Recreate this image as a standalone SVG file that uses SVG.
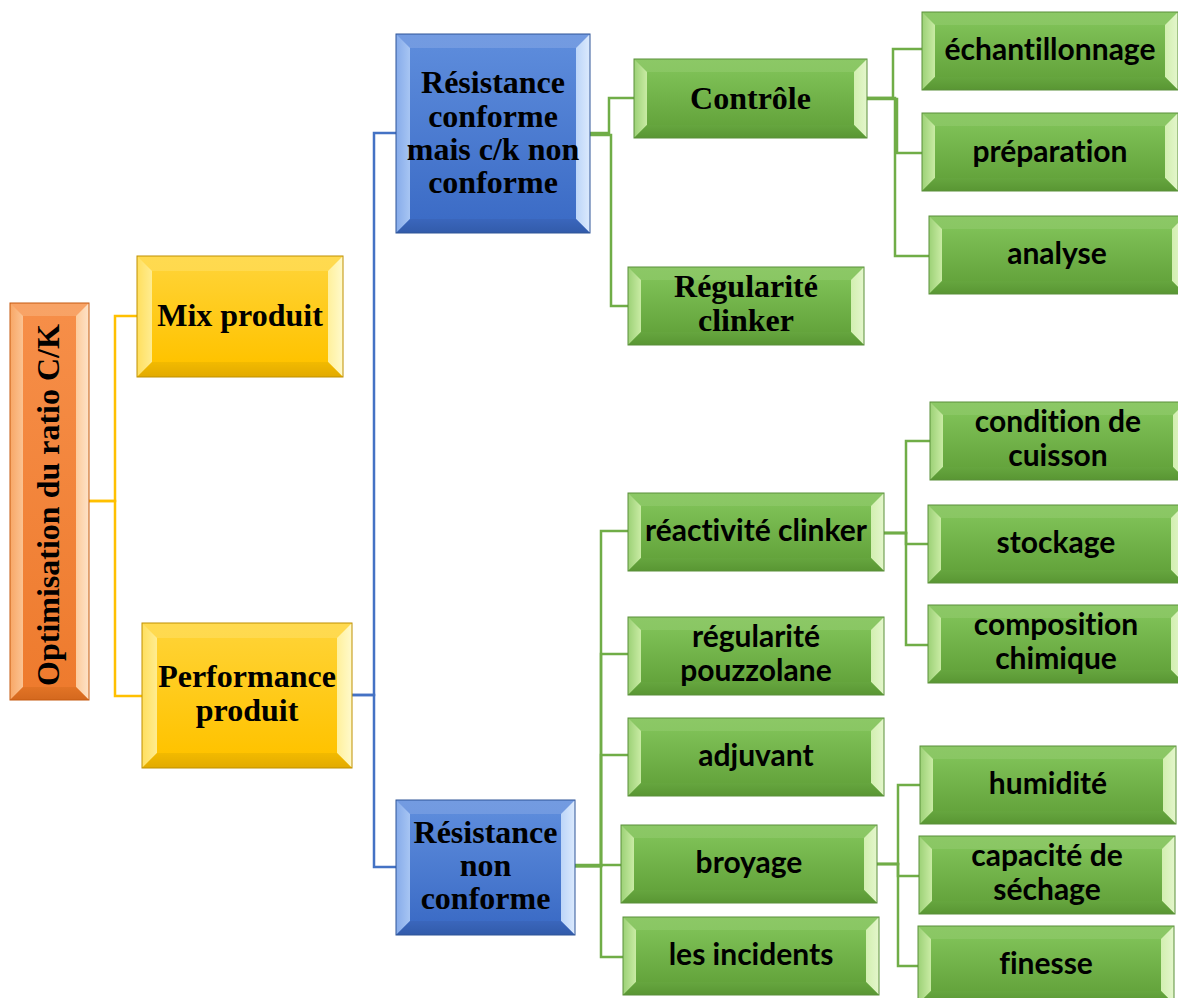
<svg xmlns="http://www.w3.org/2000/svg" xmlns:xlink="http://www.w3.org/1999/xlink" width="1178" height="998" viewBox="0 0 1178 998">
<style>
.ts{font-family:"Liberation Serif","Times New Roman",serif;font-weight:bold;font-size:32px;fill:#000;text-anchor:middle}
.tn{font-family:Lato,"Noto Sans",sans-serif;font-weight:bold;font-size:30px;fill:#000;text-anchor:middle;font-variant-ligatures:none}
.cy{stroke:#FFC000;stroke-width:2.5;fill:none}
.cb{stroke:#4472C4;stroke-width:2.5;fill:none}
.cg{stroke:#70AD47;stroke-width:2.5;fill:none}
</style>
<defs>
<linearGradient id="gFace" x1="0" y1="0" x2="0" y2="1"><stop offset="0" stop-color="#7EC056"/><stop offset="1" stop-color="#64A43C"/></linearGradient>
<linearGradient id="gTop" x1="0" y1="0" x2="0" y2="1"><stop offset="0" stop-color="#8CC866"/><stop offset="1" stop-color="#7DBE56"/></linearGradient>
<linearGradient id="gLeft" x1="0" y1="0" x2="1" y2="0"><stop offset="0" stop-color="#9CD176"/><stop offset="1" stop-color="#C9EBA4"/></linearGradient>
<linearGradient id="gRight" x1="0" y1="0" x2="1" y2="0"><stop offset="0" stop-color="#D2EFB0"/><stop offset="1" stop-color="#E4F6CC"/></linearGradient>
<linearGradient id="gBot" x1="0" y1="0" x2="0" y2="1"><stop offset="0" stop-color="#66A63F"/><stop offset="1" stop-color="#599633"/></linearGradient>

<linearGradient id="bFace" x1="0" y1="0" x2="0" y2="1"><stop offset="0" stop-color="#5C8BDB"/><stop offset="1" stop-color="#3C6CC6"/></linearGradient>
<linearGradient id="bTop" x1="0" y1="0" x2="0" y2="1"><stop offset="0" stop-color="#739BE1"/><stop offset="1" stop-color="#6690DC"/></linearGradient>
<linearGradient id="bLeft" x1="0" y1="0" x2="1" y2="0"><stop offset="0" stop-color="#86ABEA"/><stop offset="1" stop-color="#A7C5F3"/></linearGradient>
<linearGradient id="bRight" x1="0" y1="0" x2="1" y2="0"><stop offset="0" stop-color="#BCD5F8"/><stop offset="1" stop-color="#DCEAFD"/></linearGradient>
<linearGradient id="bBot" x1="0" y1="0" x2="0" y2="1"><stop offset="0" stop-color="#3A66BC"/><stop offset="1" stop-color="#325BAA"/></linearGradient>

<linearGradient id="yFace" x1="0" y1="0" x2="0" y2="1"><stop offset="0" stop-color="#FFD232"/><stop offset="1" stop-color="#FFC300"/></linearGradient>
<linearGradient id="yTop" x1="0" y1="0" x2="0" y2="1"><stop offset="0" stop-color="#FFDA50"/><stop offset="1" stop-color="#FFD43C"/></linearGradient>
<linearGradient id="yLeft" x1="0" y1="0" x2="1" y2="0"><stop offset="0" stop-color="#FFDF5E"/><stop offset="1" stop-color="#FFEC90"/></linearGradient>
<linearGradient id="yRight" x1="0" y1="0" x2="1" y2="0"><stop offset="0" stop-color="#FFF09C"/><stop offset="1" stop-color="#FFFACC"/></linearGradient>
<linearGradient id="yBot" x1="0" y1="0" x2="0" y2="1"><stop offset="0" stop-color="#F2BA00"/><stop offset="1" stop-color="#E2AA00"/></linearGradient>

<linearGradient id="oFace" x1="0" y1="0" x2="0" y2="1"><stop offset="0" stop-color="#F68E48"/><stop offset="1" stop-color="#EE7B2E"/></linearGradient>
<linearGradient id="oTop" x1="0" y1="0" x2="0" y2="1"><stop offset="0" stop-color="#F8A366"/><stop offset="1" stop-color="#F69656"/></linearGradient>
<linearGradient id="oLeft" x1="0" y1="0" x2="1" y2="0"><stop offset="0" stop-color="#F8A766"/><stop offset="1" stop-color="#FBC393"/></linearGradient>
<linearGradient id="oRight" x1="0" y1="0" x2="1" y2="0"><stop offset="0" stop-color="#FCCB9C"/><stop offset="1" stop-color="#FEE2C8"/></linearGradient>
<linearGradient id="oBot" x1="0" y1="0" x2="0" y2="1"><stop offset="0" stop-color="#E27426"/><stop offset="1" stop-color="#D4681E"/></linearGradient>

<g id="gbox">
<rect width="256" height="78" fill="url(#gTop)"/>
<polygon points="0,0 13,13 13,65 0,78" fill="url(#gLeft)"/>
<polygon points="256,0 256,78 243,65 243,13" fill="url(#gRight)"/>
<polygon points="0,78 13,65 243,65 256,78" fill="url(#gBot)"/>
<rect x="13" y="13" width="230" height="52" fill="url(#gFace)"/>
<rect width="256" height="78" fill="none" stroke="#5A8F3A" stroke-width="1"/>
</g>
</defs>

<rect width="1178" height="998" fill="#FFFFFF"/>

<g id="connectors">
<path class="cy" d="M89,501 H115 V316 H137"/>
<path class="cy" d="M89,501 H115 V696 H142"/>
<path class="cb" d="M352,695 H374 V133 H396"/>
<path class="cb" d="M352,695 H374 V867 H396"/>
<path class="cg" d="M590,133 H609 V98 H634"/>
<path class="cg" d="M590,135 H611 V306 H628"/>
<path class="cg" d="M867,98 H893 V49 H922"/>
<path class="cg" d="M867,99 H897 V153 H922"/>
<path class="cg" d="M867,98 H895 V256 H929"/>
<path class="cg" d="M575,866 H601 V531 H628"/>
<path class="cg" d="M575,866 H601 V654 H628"/>
<path class="cg" d="M575,866 H601 V755 H628"/>
<path class="cg" d="M575,865 H621"/>
<path class="cg" d="M575,866 H601 V957 H623"/>
<path class="cg" d="M883,533 H906 V441 H930"/>
<path class="cg" d="M883,533 H906 V544 H928"/>
<path class="cg" d="M883,533 H906 V645 H928"/>
<path class="cg" d="M877,864 H898 V785 H920"/>
<path class="cg" d="M877,864 H898 V876 H919"/>
<path class="cg" d="M877,864 H898 V966 H918"/>
</g>

<g id="n-root" transform="translate(10,303)">
<rect width="79" height="397" fill="url(#oTop)"/>
<polygon points="0,0 13,13 13,384 0,397" fill="url(#oLeft)"/>
<polygon points="79,0 79,397 66,384 66,13" fill="url(#oRight)"/>
<polygon points="0,397 13,384 66,384 79,397" fill="url(#oBot)"/>
<rect x="13" y="13" width="53" height="371" fill="url(#oFace)"/>
<rect width="79" height="397" fill="none" stroke="#C55A11" stroke-width="1"/>
<text class="ts" transform="translate(39.5,202) rotate(-90)" y="9">Optimisation du ratio C/K</text>
</g>

<g id="n-mix" transform="translate(137,256)">
<rect width="206" height="121" fill="url(#yTop)"/>
<polygon points="0,0 15,15 15,106 0,121" fill="url(#yLeft)"/>
<polygon points="206,0 206,121 191,106 191,15" fill="url(#yRight)"/>
<polygon points="0,121 15,106 191,106 206,121" fill="url(#yBot)"/>
<rect x="15" y="15" width="176" height="91" fill="url(#yFace)"/>
<rect width="206" height="121" fill="none" stroke="#BF9000" stroke-width="1"/>
<text class="ts" x="103" y="70">Mix produit</text>
</g>

<g id="n-perf" transform="translate(142,623)">
<rect width="210" height="145" fill="url(#yTop)"/>
<polygon points="0,0 15,15 15,130 0,145" fill="url(#yLeft)"/>
<polygon points="210,0 210,145 195,130 195,15" fill="url(#yRight)"/>
<polygon points="0,145 15,130 195,130 210,145" fill="url(#yBot)"/>
<rect x="15" y="15" width="180" height="115" fill="url(#yFace)"/>
<rect width="210" height="145" fill="none" stroke="#BF9000" stroke-width="1"/>
<text class="ts" x="105" y="64">Performance</text>
<text class="ts" x="105" y="98">produit</text>
</g>

<g id="n-rc" transform="translate(396,34)">
<rect width="194" height="199" fill="url(#bTop)"/>
<polygon points="0,0 14,14 14,185 0,199" fill="url(#bLeft)"/>
<polygon points="194,0 194,199 180,185 180,14" fill="url(#bRight)"/>
<polygon points="0,199 14,185 180,185 194,199" fill="url(#bBot)"/>
<rect x="14" y="14" width="166" height="171" fill="url(#bFace)"/>
<rect width="194" height="199" fill="none" stroke="#2F5597" stroke-width="1"/>
<text class="ts" x="97" y="59">Résistance</text>
<text class="ts" x="97" y="93">conforme</text>
<text class="ts" x="97" y="126">mais c/k non</text>
<text class="ts" x="97" y="159">conforme</text>
</g>

<g id="n-rnc" transform="translate(396,800)">
<rect width="179" height="135" fill="url(#bTop)"/>
<polygon points="0,0 14,14 14,121 0,135" fill="url(#bLeft)"/>
<polygon points="179,0 179,135 165,121 165,14" fill="url(#bRight)"/>
<polygon points="0,135 14,121 165,121 179,135" fill="url(#bBot)"/>
<rect x="14" y="14" width="151" height="107" fill="url(#bFace)"/>
<rect width="179" height="135" fill="none" stroke="#2F5597" stroke-width="1"/>
<text class="ts" x="89.5" y="43">Résistance</text>
<text class="ts" x="89.5" y="76">non</text>
<text class="ts" x="89.5" y="109">conforme</text>
</g>

<g id="n-controle" transform="translate(634,59)">
<rect width="233" height="79" fill="url(#gTop)"/>
<polygon points="0,0 13,13 13,66 0,79" fill="url(#gLeft)"/>
<polygon points="233,0 233,79 220,66 220,13" fill="url(#gRight)"/>
<polygon points="0,79 13,66 220,66 233,79" fill="url(#gBot)"/>
<rect x="13" y="13" width="207" height="53" fill="url(#gFace)"/>
<rect width="233" height="79" fill="none" stroke="#5A8F3A" stroke-width="1"/>
<text class="ts" x="116.5" y="50">Contrôle</text>
</g>

<g id="n-regclinker" transform="translate(628,267)">
<rect width="236" height="78" fill="url(#gTop)"/>
<polygon points="0,0 13,13 13,65 0,78" fill="url(#gLeft)"/>
<polygon points="236,0 236,78 223,65 223,13" fill="url(#gRight)"/>
<polygon points="0,78 13,65 223,65 236,78" fill="url(#gBot)"/>
<rect x="13" y="13" width="210" height="52" fill="url(#gFace)"/>
<rect width="236" height="78" fill="none" stroke="#5A8F3A" stroke-width="1"/>
<text class="ts" x="118" y="30">Régularité</text>
<text class="ts" x="118" y="64">clinker</text>
</g>

<g id="n-echant" transform="translate(922,12)"><use xlink:href="#gbox"/><text class="tn" x="128" y="48">échantillonnage</text></g>
<g id="n-prep" transform="translate(922,113)"><use xlink:href="#gbox"/><text class="tn" x="128" y="49">préparation</text></g>
<g id="n-analyse" transform="translate(929,216)"><use xlink:href="#gbox"/><text class="tn" x="128" y="48">analyse</text></g>

<g id="n-reactivite" transform="translate(628,493)"><use xlink:href="#gbox"/><text class="tn" x="128" y="48">réactivité clinker</text></g>
<g id="n-pouzz" transform="translate(628,617)"><use xlink:href="#gbox"/><text class="tn" x="128" y="30">régularité</text><text class="tn" x="128" y="64">pouzzolane</text></g>
<g id="n-adjuvant" transform="translate(628,718)"><use xlink:href="#gbox"/><text class="tn" x="128" y="48">adjuvant</text></g>
<g id="n-broyage" transform="translate(621,825)"><use xlink:href="#gbox"/><text class="tn" x="128" y="48">broyage</text></g>
<g id="n-incidents" transform="translate(623,917)"><use xlink:href="#gbox"/><text class="tn" x="128" y="48">les incidents</text></g>

<g id="n-condition" transform="translate(930,402)"><use xlink:href="#gbox"/><text class="tn" x="128" y="30">condition de</text><text class="tn" x="128" y="64">cuisson</text></g>
<g id="n-stockage" transform="translate(928,505)"><use xlink:href="#gbox"/><text class="tn" x="128" y="48">stockage</text></g>
<g id="n-composition" transform="translate(928,605)"><use xlink:href="#gbox"/><text class="tn" x="128" y="30">composition</text><text class="tn" x="128" y="64">chimique</text></g>

<g id="n-humidite" transform="translate(920,746)"><use xlink:href="#gbox"/><text class="tn" x="128" y="48">humidité</text></g>
<g id="n-capacite" transform="translate(919,836)"><use xlink:href="#gbox"/><text class="tn" x="128" y="30">capacité de</text><text class="tn" x="128" y="64">séchage</text></g>
<g id="n-finesse" transform="translate(918,926)"><use xlink:href="#gbox"/><text class="tn" x="128" y="48">finesse</text></g>
</svg>
